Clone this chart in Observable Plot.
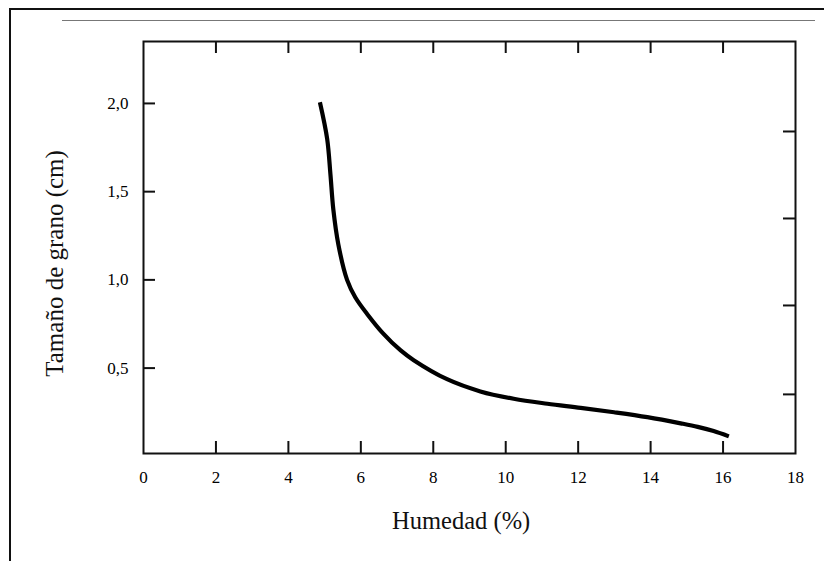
<!DOCTYPE html>
<html>
<head>
<meta charset="utf-8">
<script src="https://cdn.jsdelivr.net/npm/d3@7"></script>
<script src="https://cdn.jsdelivr.net/npm/@observablehq/plot@0.6"></script>
<style>
  html, body { margin: 0; padding: 0; background: #fff; }
  #wrap { position: relative; width: 824px; height: 561px; overflow: hidden; }
  .ol { position: absolute; background: #111; }
  #gl { position: absolute; background: #777; }
  #chart { position: absolute; left: 0; top: 0; }
</style>
</head>
<body>
<div id="wrap">
  <div class="ol" style="left:9px; top:8px; width:2px; height:560px;"></div>
  <div class="ol" style="left:9px; top:8px; width:815px; height:2px;"></div>
  <div id="gl" style="left:62px; top:20px; width:753px; height:1px;"></div>
  <div id="chart"></div>
</div>
<script>
// Curve: humidity (%) vs grain size (cm)
const humedad = [4.87, 5.07, 5.16, 5.24, 5.38, 5.62, 5.85, 6.20, 6.60, 7.10, 7.46, 8.38, 9.30, 10.22, 11.15, 12.07, 12.99, 13.91, 14.83, 15.30, 15.74, 16.16];
const tamano  = [2.007, 1.80, 1.60, 1.40, 1.20, 1.00, 0.90, 0.80, 0.70, 0.60, 0.545, 0.437, 0.368, 0.326, 0.298, 0.275, 0.25, 0.222, 0.187, 0.167, 0.143, 0.113];

const xTicks = [0, 2, 4, 6, 8, 10, 12, 14, 16, 18];
const xInnerTicks = [2, 4, 6, 8, 10, 12, 14, 16];
const yTicks = [0.5, 1.0, 1.5, 2.0];
const yRightTicks = [0.351, 0.855, 1.348, 1.841];

const xLabel = "Humedad (%)";
const yLabel = "Tamaño de grano (cm)";

const data = humedad.map((h, i) => ({x: h, y: tamano[i]}));
const font = "'Liberation Serif', 'DejaVu Serif', serif";

const plot = Plot.plot({
  width: 824,
  height: 561,
  marginLeft: 143,
  marginRight: 29,
  marginTop: 41,
  marginBottom: 108,
  style: {fontFamily: font, background: "transparent"},
  x: {domain: [0, 18]},
  y: {domain: [0.016, 2.351]},
  marks: [
    Plot.frame({stroke: "#111", strokeWidth: 2}),
    Plot.tickX(xInnerTicks, {x: d => d, insetTop: 400, stroke: "#111", strokeWidth: 2}),
    Plot.tickX(xInnerTicks, {x: d => d, insetBottom: 400, stroke: "#111", strokeWidth: 2}),
    Plot.tickY(yTicks, {y: d => d, insetRight: 640, stroke: "#111", strokeWidth: 2}),
    Plot.tickY(yRightTicks, {y: d => d, insetLeft: 640, stroke: "#111", strokeWidth: 2}),
    Plot.axisX(xTicks, {tickSize: 0, tickPadding: 17, fontSize: 17, fill: "#000", fontFamily: font, label: null}),
    Plot.axisY(yTicks, {tickSize: 0, tickPadding: 15, fontSize: 17, fill: "#000", fontFamily: font, label: null,
      tickFormat: d => d.toFixed(1).replace(".", ",")}),
    Plot.line(data, {x: "x", y: "y", stroke: "#000", strokeWidth: 4.2, curve: "catmull-rom", strokeLinecap: "butt"}),
    Plot.text([xLabel], {x: 8.77, y: -0.369, text: d => d, fontSize: 24.5, fill: "#111", fontFamily: font}),
    Plot.text([yLabel], {x: -2.43, y: 1.093, rotate: -90, text: d => d, fontSize: 25, fill: "#111", fontFamily: font})
  ]
});
document.getElementById("chart").appendChild(plot);
</script>
</body>
</html>
